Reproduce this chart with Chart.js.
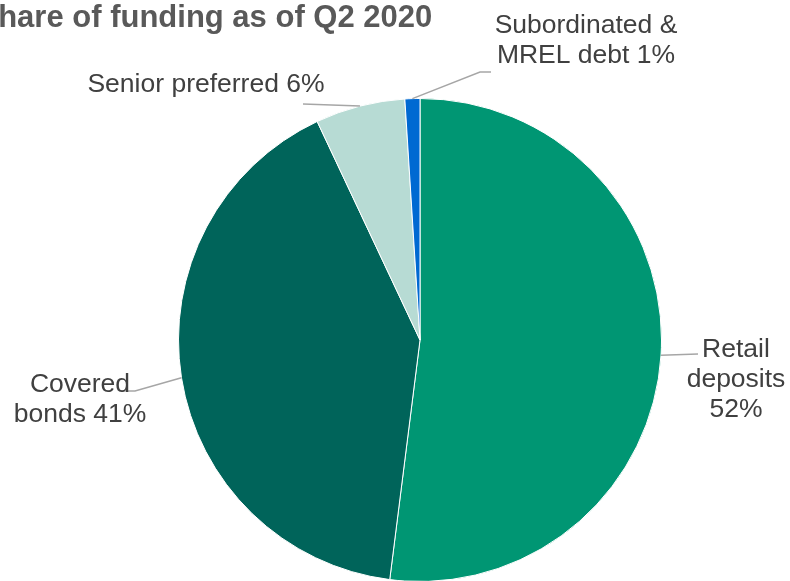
<!DOCTYPE html>
<html>
<head>
<meta charset="utf-8">
<script src="https://cdn.jsdelivr.net/npm/chart.js@4.4.1/dist/chart.umd.min.js"></script>
<style>
    html, body { margin: 0; padding: 0; background: #fff; overflow: hidden; }
    #wrap { position: relative; width: 790px; height: 600px; }
</style>
</head>
<body>
<div id="wrap"><canvas id="fundingChart"></canvas></div>
<script>
// Funding mix, Q2 2020 (share in %)
const categories = ['Retail deposits', 'Covered bonds', 'Senior preferred', 'Subordinated & MREL debt'];
const shares = [52, 41, 6, 1];
const sliceColors = ['#009673', '#00645a', '#b7dbd4', '#0069d2'];

// label text lines per slice (value appended from shares)
const labelLines = [
    ['Retail', 'deposits', '{v}%'],
    ['Covered', 'bonds {v}%'],
    ['Senior preferred {v}%'],
    ['Subordinated &', 'MREL debt {v}%']
];

// label placement: text centre x, first baseline y, leader elbow and end
const labelLayout = [
    { x: 736, y: 357, elbow: [698, 354], end: [698, 354] },
    { x: 80, y: 392, elbow: [135, 391], end: [123, 391] },
    { x: 206, y: 92, elbow: [303, 104], end: [303, 104] },
    { x: 586, y: 33, elbow: [480, 72], end: [491, 72] }
];

const calloutPlugin = {
    id: 'callouts',
    afterDraw(chart) {
        const ctx = chart.ctx;
        const meta = chart.getDatasetMeta(0);
        ctx.save();

        // title, starts left of the canvas edge
        ctx.font = 'bold 31px "Liberation Sans", Arial, sans-serif';
        ctx.fillStyle = '#595959';
        ctx.textAlign = 'left';
        ctx.textBaseline = 'alphabetic';
        ctx.fillText('Share of funding as of Q2 2020', -22.5, 27);

        meta.data.forEach(function (arc, i) {
            const mid = (arc.startAngle + arc.endAngle) / 2;
            const sx = arc.x + Math.cos(mid) * arc.outerRadius;
            const sy = arc.y + Math.sin(mid) * arc.outerRadius;
            const lay = labelLayout[i];

            ctx.strokeStyle = '#a6a6a6';
            ctx.lineWidth = 1.5;
            ctx.beginPath();
            ctx.moveTo(sx, sy);
            ctx.lineTo(lay.elbow[0], lay.elbow[1]);
            ctx.lineTo(lay.end[0], lay.end[1]);
            ctx.stroke();

            ctx.font = '26.5px "Liberation Sans", Arial, sans-serif';
            ctx.fillStyle = '#404040';
            ctx.textAlign = 'center';
            labelLines[i].forEach(function (line, j) {
                ctx.fillText(line.replace('{v}', shares[i]), lay.x, lay.y + j * 30);
            });
        });
        ctx.restore();
    }
};

new Chart(document.getElementById('fundingChart'), {
    type: 'pie',
    data: {
        labels: categories,
        datasets: [{
            data: shares,
            backgroundColor: sliceColors,
            borderColor: '#ffffff',
            borderWidth: 1
        }]
    },
    options: {
        responsive: true,
        maintainAspectRatio: false,
        animation: false,
        layout: {
            padding: { left: 178, right: 128, top: 98, bottom: 18 }
        },
        plugins: {
            legend: { display: false },
            tooltip: { enabled: false }
        }
    },
    plugins: [calloutPlugin]
});
</script>
</body>
</html>
